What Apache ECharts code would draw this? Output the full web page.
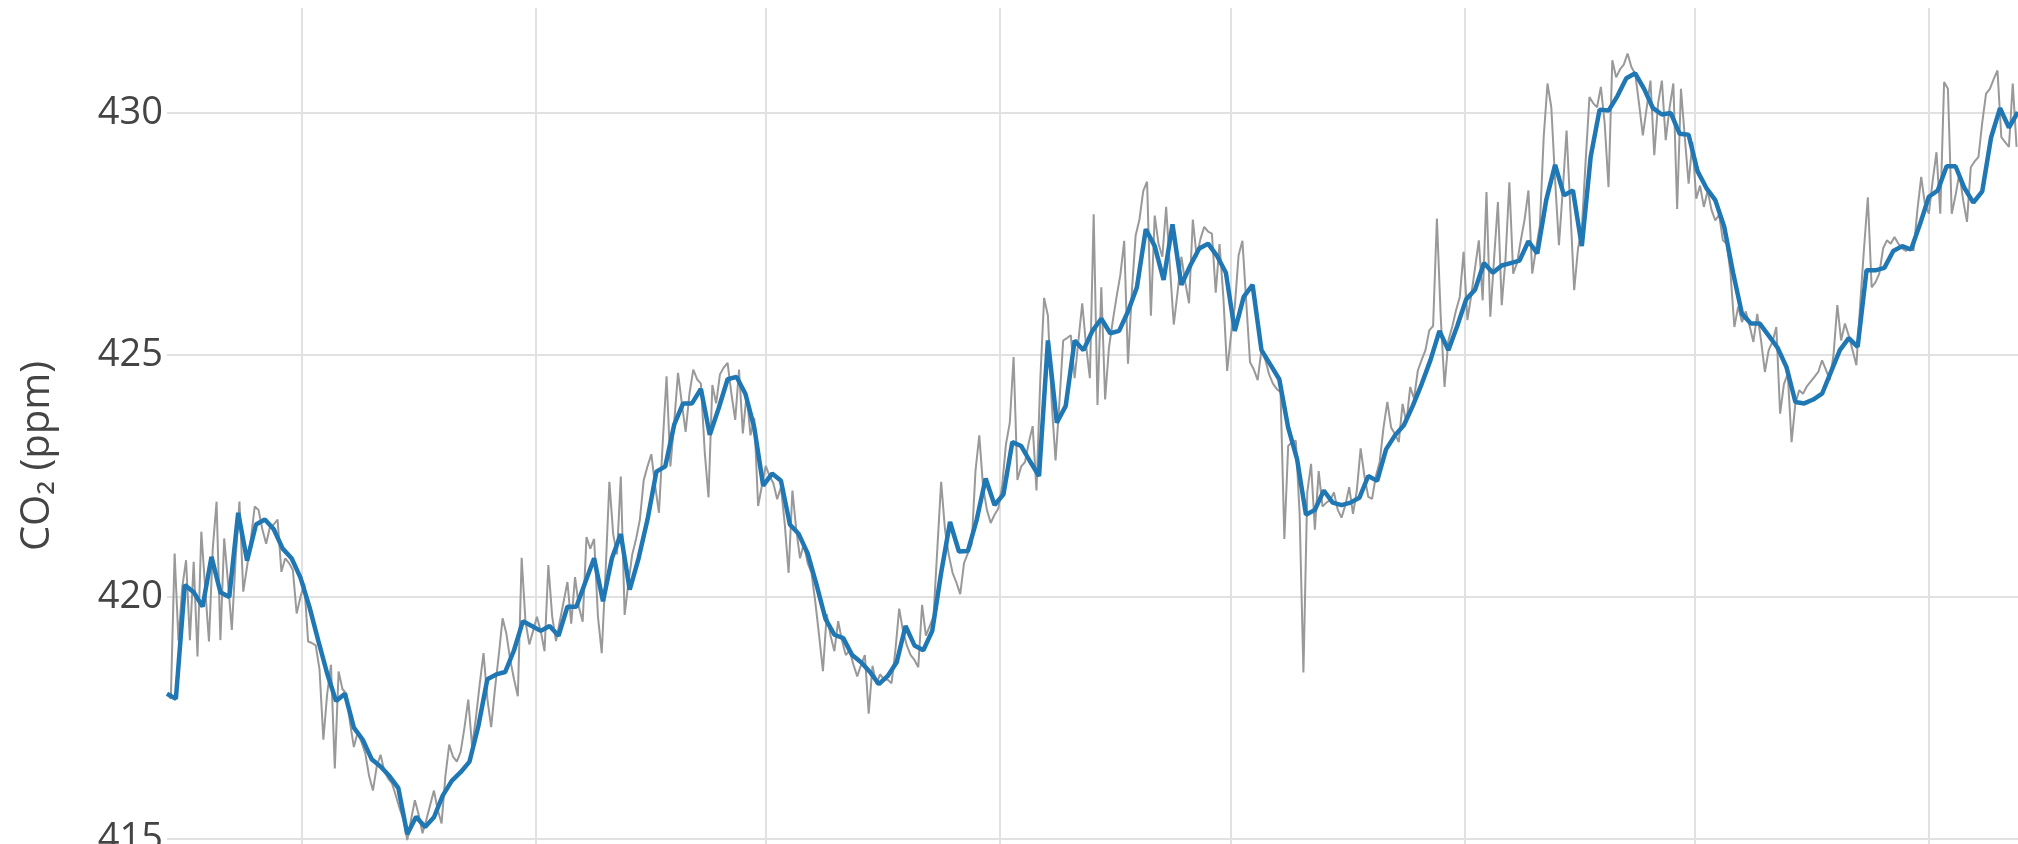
<!DOCTYPE html>
<html>
<head>
<meta charset="utf-8">
<script src="https://cdn.jsdelivr.net/npm/echarts@6/dist/echarts.min.js"></script>
<style>
  html, body { margin: 0; padding: 0; background: #fff; width: 2018px; height: 844px; overflow: hidden; }
  #chart { width: 2040px; height: 1100px; }
</style>
</head>
<body>
<div id="chart"></div>
<script>
// Atmospheric CO2 (ppm): weekly means and daily readings, spring 2022 to spring 2026.
const seriesStart = [2022, 2, 17];          // year, month (0-based), day of the first reading
const weeklyStepDays = 7;
const dailyStepDays = 3;
const axisEndDay = 1464;                     // days from the first reading to the axis end

const weeklyCO2 = [
  418.0, 417.9, 420.25, 420.1, 419.8, 420.83, 420.1, 420.0, 421.74, 420.75,
  421.5, 421.6, 421.4, 421.0, 420.8, 420.4, 419.8, 419.1, 418.42, 417.85,
  418.0, 417.3, 417.05, 416.65, 416.5, 416.3, 416.05, 415.1, 415.46, 415.25,
  415.45, 415.9, 416.2, 416.38, 416.6, 417.34, 418.3, 418.4, 418.45, 418.9,
  419.5, 419.4, 419.3, 419.4, 419.2, 419.8, 419.8, 420.3, 420.8, 419.91,
  420.8, 421.3, 420.15, 420.8, 421.6, 422.59, 422.7, 423.56, 424.0, 424.0,
  424.3, 423.35, 423.9, 424.5, 424.55, 424.2, 423.5, 422.3, 422.55, 422.4,
  421.5, 421.3, 420.9, 420.25, 419.55, 419.22, 419.15, 418.8, 418.65, 418.45,
  418.2, 418.37, 418.65, 419.4, 419.0, 418.9, 419.3, 420.5, 421.55, 420.94,
  420.95, 421.6, 422.45, 421.9, 422.12, 423.2, 423.12, 422.8, 422.5, 425.3,
  423.6, 423.95, 425.3, 425.1, 425.5, 425.75, 425.45, 425.5, 425.9, 426.4,
  427.6, 427.25, 426.55, 427.7, 426.45, 426.85, 427.2, 427.3, 427.05, 426.7,
  425.5, 426.2, 426.45, 425.1, 424.8, 424.5, 423.5, 422.85, 421.7, 421.8,
  422.2, 421.95, 421.9, 421.95, 422.05, 422.5, 422.4, 423.05, 423.34, 423.55,
  423.95, 424.4, 424.9, 425.5, 425.1, 425.6, 426.15, 426.35, 426.9, 426.7,
  426.85, 426.9, 426.95, 427.35, 427.1, 428.2, 428.93, 428.3, 428.4, 427.25,
  429.1, 430.07, 430.05, 430.35, 430.72, 430.82, 430.5, 430.1, 429.97, 430.0,
  429.57, 429.55, 428.8, 428.45, 428.2, 427.65, 426.7, 425.85, 425.65, 425.65,
  425.4, 425.15, 424.75, 424.03, 424.0, 424.08, 424.2, 424.65, 425.1, 425.35,
  425.17, 426.75, 426.75, 426.8, 427.15, 427.25, 427.18, 427.7, 428.27, 428.4,
  428.9, 428.9, 428.45, 428.15, 428.38, 429.5, 430.1, 429.7, 430.02
];

const dailyCO2 = [
  418.0, 417.9, 420.9, 419.1, 420.2, 420.76, 419.11, 420.73, 418.77, 421.35,
  420.2, 419.08, 421.0, 421.97, 419.11, 421.21, 420.3, 419.32, 420.8, 421.97,
  420.11, 420.63, 421.2, 421.87, 421.8, 421.4, 421.1, 421.45, 421.5, 421.6,
  420.52, 420.8, 420.7, 420.56, 419.66, 420.0, 420.28, 419.08, 419.05, 419.0,
  418.5, 417.05, 418.0, 418.6, 416.46, 418.46, 418.1, 418.01, 417.4, 416.9,
  417.2, 417.0, 416.77, 416.3, 416.0, 416.5, 416.74, 416.4, 416.25, 416.15,
  415.9, 415.63, 415.4, 414.98, 415.4, 415.8, 415.5, 415.12, 415.4, 415.7,
  416.0, 415.6, 415.32, 416.3, 416.95, 416.7, 416.6, 416.8, 417.3, 417.88,
  416.91, 417.5, 418.2, 418.84, 417.9, 417.31, 418.1, 418.8, 419.56, 419.24,
  418.7, 418.3, 417.95, 420.81, 419.5, 419.02, 419.3, 419.59, 419.3, 418.88,
  420.66, 419.6, 419.09, 419.5, 419.9, 420.31, 419.45, 420.41, 419.8, 419.49,
  421.24, 421.0, 421.2, 419.6, 418.84, 420.5, 422.38, 421.3, 420.88, 422.49,
  419.63, 420.3, 420.88, 421.2, 421.6, 422.41, 422.7, 422.95, 422.3, 421.74,
  423.2, 424.56, 422.7, 423.6, 424.63, 424.0, 423.41, 424.2, 424.7, 424.5,
  424.41, 423.0, 422.06, 424.38, 424.0, 424.6, 424.74, 424.84, 424.2, 423.66,
  424.7, 423.38, 424.2, 423.34, 423.7, 421.88, 422.3, 422.71, 422.5, 422.35,
  422.02, 422.27, 421.5, 420.5, 422.2, 421.4, 420.8, 421.1, 420.7, 420.5,
  419.9, 419.2, 418.47, 419.65, 419.2, 418.88, 419.5, 419.1, 418.8, 418.9,
  418.6, 418.36, 418.6, 418.8, 417.59, 418.58, 418.2, 418.4, 418.3, 418.29,
  418.22, 418.9, 419.76, 419.3, 419.0, 418.8, 418.7, 418.55, 419.84, 419.2,
  419.4, 419.6, 421.0, 422.38, 421.4, 420.87, 420.5, 420.3, 420.06, 420.7,
  420.9, 421.09, 422.6, 423.34, 422.27, 421.8, 421.53, 421.7, 421.83, 422.3,
  423.16, 423.6, 424.96, 422.42, 422.7, 422.79, 423.2, 423.53, 422.2, 424.5,
  426.18, 425.81, 424.0, 422.82, 424.0, 425.3, 425.35, 425.41, 424.52, 425.3,
  426.07, 425.2, 424.52, 427.91, 423.97, 426.4, 424.08, 425.15, 425.7, 426.2,
  426.66, 427.36, 424.82, 426.3, 427.47, 427.8, 428.39, 428.58, 425.81, 427.88,
  427.3, 427.03, 428.06, 426.8, 425.63, 426.3, 427.03, 426.5, 426.07, 427.8,
  427.03, 427.4, 427.65, 427.55, 427.51, 426.29, 427.29, 426.2, 424.67, 425.41,
  426.0, 427.06, 427.36, 426.1, 424.85, 424.7, 424.48, 425.11, 424.9, 424.6,
  424.41, 424.3, 424.23, 421.2, 423.12, 423.2, 423.23, 421.72, 418.44, 422.16,
  422.75, 421.39, 422.6, 421.87, 421.95, 422.0, 422.16, 421.8, 421.64, 421.9,
  422.27, 421.72, 422.2, 423.07, 422.5, 422.07, 422.03, 422.5, 422.79, 423.5,
  424.03, 423.5, 423.37, 423.2, 423.99, 423.6, 424.34, 424.1, 424.68, 424.9,
  425.1, 425.51, 425.6, 427.82, 425.79, 424.34, 425.3, 425.58, 425.92, 426.2,
  427.13, 425.72, 426.23, 426.8, 427.37, 426.13, 428.37, 425.79, 427.0, 428.16,
  426.03, 427.0, 428.57, 426.68, 426.9, 427.37, 427.8, 428.4, 426.68, 427.2,
  427.68, 429.5, 430.61, 430.12, 428.61, 427.27, 428.4, 429.64, 428.0, 426.34,
  427.2, 427.61, 429.0, 430.33, 430.2, 430.12, 430.54, 429.78, 428.47, 431.09,
  430.74, 430.9, 431.0, 431.23, 430.95, 430.81, 430.2, 429.54, 430.1, 430.67,
  429.13, 430.2, 430.67, 429.44, 430.1, 430.61, 428.02, 430.5, 429.5, 428.54,
  429.4, 428.23, 428.5, 428.06, 428.4, 428.0, 427.78, 427.9, 427.37, 427.3,
  426.68, 425.58, 426.0, 425.68, 425.9, 425.6, 425.27, 425.85, 425.3, 424.65,
  425.1, 425.27, 425.58, 423.79, 424.4, 424.61, 423.2, 424.0, 424.27, 424.2,
  424.35, 424.45, 424.55, 424.65, 424.89, 424.7, 424.48, 425.0, 426.03, 425.3,
  425.65, 425.4, 425.1, 424.79, 426.06, 427.2, 428.26, 426.4, 426.5, 426.68,
  427.2, 427.37, 427.3, 427.44, 427.3, 427.2, 427.15, 427.2, 427.16, 428.0,
  428.68, 428.1, 427.92, 428.6, 429.19, 427.92, 430.64, 430.5, 427.92, 428.3,
  428.75, 428.2, 427.75, 428.88, 429.0, 429.09, 429.8, 430.4, 430.5, 430.7,
  430.88, 429.5, 429.4, 429.3, 430.61, 429.3
];

// Half-year grid dates (1 January / 1 July)
const gridDates = [
  [2022, 6, 1], [2023, 0, 1], [2023, 6, 1], [2024, 0, 1],
  [2024, 6, 1], [2025, 0, 1], [2025, 6, 1], [2026, 0, 1]
];

const yMin = 410;
const yMax = 432.17;
const yStep = 5;
const yTitle = 'CO\u2082 (ppm)';

function dayAfter(start, n) {
  return new Date(start[0], start[1], start[2] + n).getTime();
}
function toTime(d) {
  return new Date(d[0], d[1], d[2]).getTime();
}

const weeklyPoints = weeklyCO2.map((v, i) => [dayAfter(seriesStart, i * weeklyStepDays), v]);
const dailyPoints = dailyCO2.map((v, i) => [dayAfter(seriesStart, i * dailyStepDays), v]);

const gridColor = '#e1e1e1';
const textColor = '#444';
const fontFamily = '"Open Sans", "Noto Sans", sans-serif';

const chart = echarts.init(document.getElementById('chart'), null, { renderer: 'canvas' });
chart.setOption({
  animation: false,
  backgroundColor: '#ffffff',
  grid: { left: 167, top: 8, width: 1861, height: 1073, containLabel: false },
  xAxis: {
    type: 'time',
    min: dayAfter(seriesStart, 0),
    max: dayAfter(seriesStart, axisEndDay),
    axisLine: { show: false },
    axisTick: { show: false },
    axisLabel: { show: false },
    splitLine: { show: false }
  },
  yAxis: {
    type: 'value',
    min: yMin,
    max: yMax,
    interval: yStep,
    axisLine: { show: false },
    axisTick: { show: false },
    axisLabel: {
      color: textColor,
      fontFamily: fontFamily,
      fontSize: 38,
      margin: 4,
      showMaxLabel: false
    },
    splitLine: { show: true, showMaxLine: false, lineStyle: { color: gridColor, width: 2 } }
  },
  graphic: [{
    type: 'text',
    x: 38,
    y: 456,
    rotation: Math.PI / 2,
    silent: true,
    style: {
      text: yTitle,
      fill: textColor,
      font: '40px ' + fontFamily,
      align: 'center',
      verticalAlign: 'middle'
    }
  }],
  series: [
    {
      name: 'Daily',
      type: 'line',
      data: dailyPoints,
      showSymbol: false,
      symbol: 'none',
      sampling: null,
      z: 2,
      lineStyle: { color: '#999999', width: 2 },
      markLine: {
        z: 1,
        silent: true,
        symbol: ['none', 'none'],
        label: { show: false },
        animation: false,
        lineStyle: { color: gridColor, width: 2, type: 'solid' },
        emphasis: { disabled: true },
        data: gridDates.map(d => ({ xAxis: toTime(d) }))
      }
    },
    {
      name: 'Weekly',
      type: 'line',
      data: weeklyPoints,
      showSymbol: false,
      symbol: 'none',
      z: 3,
      lineStyle: { color: '#1f77b4', width: 4.5 }
    }
  ]
});
</script>
</body>
</html>
